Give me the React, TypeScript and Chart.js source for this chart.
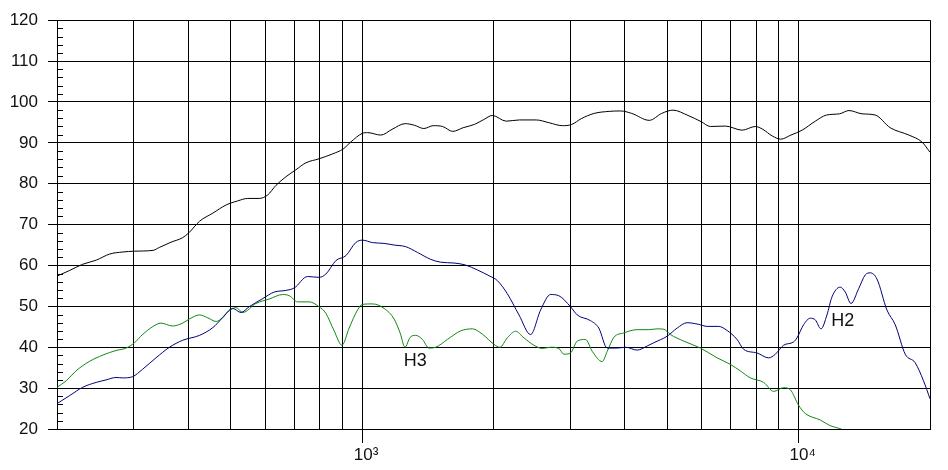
import { useEffect, useRef } from 'react';
import { Chart, registerables } from 'chart.js';

Chart.register(...registerables);

// ---- Data (frequency in Hz, level in dB) ----
const MAIN_FREQ = [200, 214, 229, 246, 264, 283, 301, 332, 343, 365, 388, 401, 424, 455, 488, 519, 547, 581, 607, 635, 669, 705, 743, 797, 856, 905, 942, 1000, 1030, 1104, 1171, 1255, 1318, 1385, 1455, 1529, 1613, 1704, 1808, 1900, 1988, 2139, 2292, 2506, 2685, 2876, 3022, 3176, 3402, 3683, 3908, 4147, 4549, 4857, 5155, 5579, 5977, 6281, 6797, 7426, 7960, 8282, 8698, 9101, 9603, 10186, 10920, 11585, 12413, 13044, 13976, 14982, 16213, 17888, 19168, 20000];
const MAIN_DB = [57.4, 58.8, 60.3, 61.3, 62.8, 63.3, 63.5, 63.7, 64.4, 65.7, 66.8, 68.0, 70.8, 72.8, 74.8, 75.8, 76.4, 76.4, 77.2, 79.6, 81.7, 83.4, 85.1, 86.1, 87.3, 88.5, 90.2, 92.3, 92.5, 91.9, 93.3, 94.7, 94.3, 93.5, 94.2, 94.0, 92.8, 93.7, 94.5, 95.7, 96.7, 95.3, 95.6, 95.6, 94.9, 94.2, 94.5, 95.9, 97.2, 97.7, 97.8, 97.2, 95.5, 97.2, 98.0, 96.7, 95.2, 94.0, 94.1, 93.1, 94.0, 93.3, 91.7, 90.9, 91.9, 93.1, 95.3, 96.8, 97.1, 97.9, 97.1, 96.8, 93.7, 91.9, 90.2, 87.7];

const H2_FREQ = [200, 214, 229, 246, 259, 273, 283, 298, 314, 337, 362, 388, 424, 455, 479, 505, 528, 551, 592, 629, 669, 699, 750, 797, 826, 871, 918, 967, 1002, 1056, 1123, 1184, 1259, 1339, 1436, 1514, 1624, 1727, 1837, 1953, 2041, 2151, 2288, 2432, 2564, 2703, 2823, 3003, 3111, 3337, 3485, 3644, 3841, 4013, 4268, 4499, 4658, 4999, 5271, 5553, 5905, 6172, 6561, 6858, 7228, 7484, 8032, 8538, 8846, 9241, 9740, 9916, 10266, 10636, 10920, 11253, 11614, 11923, 12457, 12790, 13183, 13722, 14214, 14595, 15117, 15937, 16650, 17550, 18498, 19324, 20000];
const H2_DB = [26.2, 28.2, 30.2, 31.4, 32.0, 32.6, 32.5, 32.8, 34.6, 37.4, 40.0, 41.7, 42.9, 44.8, 47.2, 49.5, 48.5, 49.9, 51.9, 53.5, 53.9, 54.5, 57.3, 57.1, 57.9, 61.2, 62.4, 65.6, 66.2, 65.6, 65.4, 65.0, 64.6, 63.2, 61.5, 60.8, 60.6, 60.1, 58.9, 57.5, 56.3, 53.1, 47.9, 43.1, 49.1, 52.9, 52.6, 49.9, 47.9, 46.5, 44.7, 39.8, 39.8, 40.0, 39.3, 40.3, 41.1, 42.7, 44.7, 46.0, 45.6, 45.1, 45.1, 44.1, 41.9, 39.5, 38.6, 37.4, 38.3, 40.5, 41.3, 42.3, 45.5, 47.1, 46.7, 44.5, 47.9, 52.3, 54.7, 53.5, 50.7, 54.3, 57.7, 58.2, 56.7, 49.1, 45.5, 38.3, 36.2, 31.8, 27.4];

const H3_FREQ = [200, 210, 221, 237, 255, 273, 288, 301, 314, 332, 346, 368, 388, 402, 424, 443, 463, 496, 514, 533, 571, 613, 658, 681, 712, 756, 797, 826, 863, 899, 934, 976, 1002, 1056, 1123, 1184, 1222, 1254, 1288, 1327, 1375, 1423, 1474, 1568, 1682, 1789, 1886, 2005, 2069, 2151, 2247, 2348, 2475, 2587, 2703, 2823, 2899, 3003, 3111, 3250, 3367, 3549, 3644, 3773, 3977, 4268, 4537, 4742, 4910, 5087, 5455, 5958, 6508, 6979, 7355, 7754, 8317, 8767, 9241, 9572, 10000, 10358, 11212, 11818, 12346, 12800];
const H3_DB = [30.2, 31.8, 34.2, 36.5, 38.1, 39.2, 39.8, 41.1, 43.1, 45.1, 45.9, 45.2, 45.9, 46.9, 47.9, 47.2, 46.3, 48.9, 49.7, 48.5, 50.7, 51.8, 52.9, 52.6, 51.1, 51.1, 49.9, 48.3, 44.0, 40.5, 44.7, 49.1, 50.5, 50.6, 49.5, 46.9, 43.5, 40.0, 42.4, 42.9, 41.9, 39.8, 40.0, 41.9, 44.0, 44.5, 43.2, 40.7, 40.0, 42.3, 43.9, 42.3, 40.5, 39.7, 40.0, 39.7, 38.3, 38.6, 41.5, 41.9, 39.0, 36.5, 39.0, 42.4, 43.5, 44.3, 44.3, 44.5, 44.4, 43.1, 41.5, 39.8, 37.4, 35.8, 34.2, 32.5, 31.4, 29.2, 30.1, 29.6, 25.8, 23.8, 22.2, 20.8, 20.2, 19.6];

// ---- Axis ticks / labels ----
const GRID_FREQS = [200, 300, 400, 500, 600, 700, 800, 900, 1000, 2000, 3000, 4000, 5000, 6000, 7000, 8000, 9000, 10000, 20000];
const DECADE_VALUES = [1000, 10000];
const DECADE_LABELS = ['10³', '10⁴'];
const X_MIN = 200;
const X_MAX = 20000;
const Y_MIN = 20;
const Y_MAX = 120;
const Y_STEP = 10;
const Y_MINOR_STEP = 2;

// ---- Curve annotations ----
const NOTE_TEXT = ['H3', 'H2'];
const NOTE_FREQ = [1245, 11880];
const NOTE_DB = [35.5, 45.1];

const FONT = "'Liberation Sans', Arial, sans-serif";

const toPoints = (f: number[], v: number[]) => f.map((x, i) => ({ x, y: v[i] }));

const extrasPlugin = {
  id: 'extras',
  afterDraw(chart: any) {
    const { ctx, chartArea, scales } = chart;
    const ys = scales.y;
    const xs = scales.x;
    ctx.save();
    ctx.strokeStyle = '#000';
    ctx.lineWidth = 1;
    for (let v = Y_MIN + Y_MINOR_STEP; v < Y_MAX; v += Y_MINOR_STEP) {
      if (v % Y_STEP === 0) continue;
      const py = Math.round(ys.getPixelForValue(v)) + 0.5;
      ctx.beginPath();
      ctx.moveTo(chartArea.left, py);
      ctx.lineTo(chartArea.left + 6, py);
      ctx.stroke();
    }
    ctx.fillStyle = '#111';
    ctx.font = `18px ${FONT}`;
    ctx.textAlign = 'left';
    ctx.textBaseline = 'alphabetic';
    NOTE_TEXT.forEach((t, i) => {
      ctx.fillText(t, xs.getPixelForValue(NOTE_FREQ[i]), ys.getPixelForValue(NOTE_DB[i]));
    });
    ctx.restore();
  },
};

export default function App() {
  const ref = useRef<HTMLCanvasElement | null>(null);

  useEffect(() => {
    if (!ref.current) return;
    const chart = new Chart(ref.current, {
      type: 'line',
      data: {
        datasets: [
          { label: 'SPL', data: toPoints(MAIN_FREQ, MAIN_DB), borderColor: '#000000', borderWidth: 1, pointRadius: 0, cubicInterpolationMode: 'monotone' },
          { label: 'H2', data: toPoints(H2_FREQ, H2_DB), borderColor: '#00007a', borderWidth: 1, pointRadius: 0, cubicInterpolationMode: 'monotone' },
          { label: 'H3', data: toPoints(H3_FREQ, H3_DB), borderColor: '#118811', borderWidth: 1, pointRadius: 0, cubicInterpolationMode: 'monotone' },
        ],
      },
      options: {
        responsive: false,
        animation: false,
        layout: { padding: { top: 14, right: 18, left: 0, bottom: 0 } },
        plugins: { legend: { display: false }, tooltip: { enabled: false } },
        scales: {
          x: {
            type: 'logarithmic',
            min: X_MIN,
            max: X_MAX,
            afterBuildTicks: (scale: any) => {
              scale.ticks = GRID_FREQS.map((v) => ({ value: v, major: DECADE_VALUES.includes(v) }));
            },
            afterFit: (scale: any) => { scale.height = 41; },
            grid: {
              color: '#000',
              lineWidth: 1,
              tickLength: 14,
              tickColor: (ctx: any) => (ctx.tick && DECADE_VALUES.includes(ctx.tick.value) ? '#000' : 'rgba(0,0,0,0)'),
            },
            border: { display: true, color: '#000', width: 1 },
            ticks: {
              autoSkip: false,
              maxRotation: 0,
              padding: 2,
              labelOffset: 4,
              color: '#111',
              font: { family: FONT, size: 17 },
              callback: (value: any) => {
                const i = DECADE_VALUES.indexOf(Number(value));
                return i >= 0 ? DECADE_LABELS[i] : '';
              },
            },
          },
          y: {
            type: 'linear',
            min: Y_MIN,
            max: Y_MAX,
            afterFit: (scale: any) => { scale.width = 57; },
            grid: { color: '#000', lineWidth: 1, tickLength: 9, tickColor: '#000' },
            border: { display: true, color: '#000', width: 1 },
            ticks: {
              stepSize: Y_STEP,
              padding: 10,
              color: '#111',
              font: { family: FONT, size: 17 },
            },
          },
        },
      },
      plugins: [extrasPlugin],
    } as any);
    return () => chart.destroy();
  }, []);

  return (
    <div style={{ position: 'absolute', left: 0, top: 0, width: 948, height: 470, background: '#fff' }}>
      <canvas ref={ref} width={948} height={470} style={{ display: 'block' }} />
    </div>
  );
}
